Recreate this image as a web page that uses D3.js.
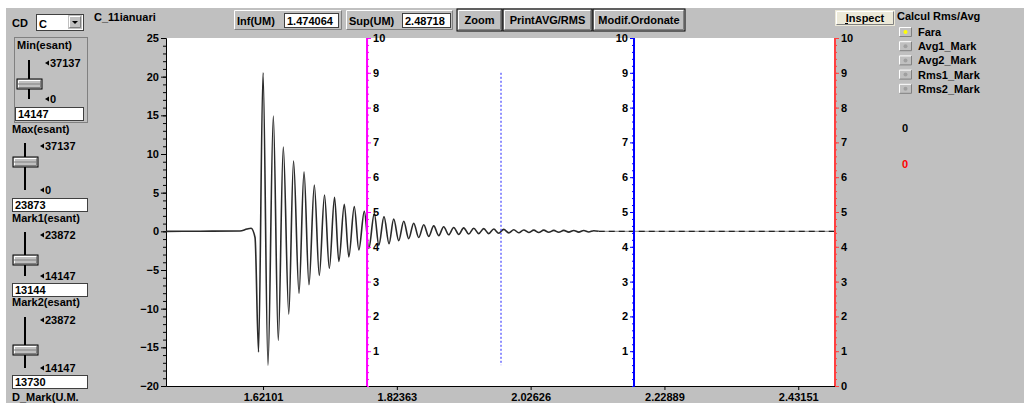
<!DOCTYPE html>
<html>
<head>
<meta charset="utf-8">
<script src="https://cdn.jsdelivr.net/npm/d3@7"></script>
<style>
  html, body { margin: 0; padding: 0; background: #fff; }
  svg { display: block; font-family: "Liberation Sans", Arial, sans-serif; font-weight: bold; font-size: 11px; }
</style>
</head>
<body>
<svg id="chart" width="1024" height="403"></svg>
<script>
// time axis (UM) limits and labelled ticks
const xDomain = [1.474064, 2.48718];
const xTickLabels = [1.62101, 1.82363, 2.02626, 2.22889, 2.43151];
const yDomain = [-20, 25];
const yTickLabels = [25, 20, 15, 10, 5, 0, -5, -10, -15, -20];
const markDomain = [0, 10];
const markTickLabels = [1, 2, 3, 4, 5, 6, 7, 8, 9, 10];
const redTickLabels = [0, 1, 2, 3, 4, 5, 6, 7, 8, 9, 10];

// signal at its turning points
const traceT = [1.4741, 1.5256, 1.5861, 1.5967, 1.6028, 1.6089, 1.6142, 1.6210, 1.6285, 1.6366,
  1.6441, 1.6517, 1.6600, 1.6672, 1.6755, 1.6831, 1.6906, 1.6987, 1.7062, 1.7141,
  1.7214, 1.7293, 1.7358, 1.7441, 1.7509, 1.7592, 1.7661, 1.7744, 1.7812, 1.7895,
  1.7964, 1.8042, 1.8118, 1.8189, 1.8265, 1.8341, 1.8416, 1.8492, 1.8568, 1.8644,
  1.8719, 1.8795, 1.8871, 1.8946, 1.9022, 1.9098, 1.9174, 1.9249, 1.9325, 1.9401,
  1.9476, 1.9552, 1.9628, 1.9704, 1.9779, 1.9855, 1.9931, 2.0007, 2.0082, 2.0158,
  2.0234, 2.0310, 2.0385, 2.0461, 2.0537, 2.0613, 2.0688, 2.0764, 2.0840, 2.0916,
  2.0991, 2.1067, 2.1143, 2.1219, 2.1294];
const traceV = [0, 0.02, 0.05, 0.3, 0.4, -0.8, -15.6, 20.5, -17.3, 14.9,
  -14.1, 10.9, -10.7, 9.1, -8.0, 7.7, -6.9, 6.0, -5.7, 4.7,
  -4.8, 4.4, -3.9, 3.5, -3.3, 3.2, -2.4, 2.6, -2.2, 2.3,
  -1.8, 1.9, -1.6, 1.6, -1.2, 1.3, -0.95, 1.05, -0.8, 0.85,
  -0.65, 0.7, -0.55, 0.6, -0.45, 0.5, -0.4, 0.45, -0.35, 0.4,
  -0.3, 0.35, -0.3, 0.3, -0.25, 0.25, -0.2, 0.2, -0.18, 0.18,
  -0.15, 0.15, -0.15, 0.15, -0.12, 0.12, -0.12, 0.12, -0.1, 0.1,
  -0.1, 0.1, -0.08, 0.08, 0];
const tailT = [2.1294, 2.48718];
const tailV = [0, 0];

// markers
const mark1T = 1.7785;
const mark2T = 2.1828;
const cursorT = 1.9814;
const cursorSpan = [0.6, 9];

// panel texts
const sliderTitles = ["Min(esant)", "Max(esant)", "Mark1(esant)", "Mark2(esant)"];
const sliderTops = ["37137", "37137", "23872", "23872"];
const sliderBottoms = ["0", "0", "14147", "14147"];
const sliderValues = ["14147", "23873", "13144", "13730"];
const calcModes = ["Fara", "Avg1_Mark", "Avg2_Mark", "Rms1_Mark", "Rms2_Mark"];
const buttons = ["Zoom", "PrintAVG/RMS", "Modif.Ordonate"];

const svg = d3.select("#chart");
const W = 1024, H = 403;
const plot = { left: 166, right: 835, top: 38, bottom: 386 };

svg.append("rect").attr("width", W).attr("height", H).attr("fill", "#c0c0c0");
svg.append("rect").attr("width", W).attr("height", 8).attr("fill", "#fff");
svg.append("rect").attr("width", 6).attr("height", H).attr("fill", "#fff");

function raised(x, y, w, h, outline, fill) {
  let g = svg.append("g");
  g.append("rect").attr("x", x).attr("y", y).attr("width", w).attr("height", h)
    .attr("fill", fill || "#c0c0c0").attr("stroke", outline ? "#000" : "none");
  g.append("path").attr("d", `M${x + 1.5},${y + h - 1.5}V${y + 1.5}H${x + w - 1.5}`)
    .attr("fill", "none").attr("stroke", "#fff");
  g.append("path").attr("d", `M${x + 1.5},${y + h - 1.5}H${x + w - 1.5}V${y + 1.5}`)
    .attr("fill", "none").attr("stroke", "#808080");
  return g;
}

function field(x, y, w, h, txt) {
  svg.append("rect").attr("x", x + 0.5).attr("y", y + 0.5).attr("width", w).attr("height", h)
    .attr("fill", "#fff").attr("stroke", "#404040");
  svg.append("text").attr("x", x + 3).attr("y", y + h - 2.5).text(txt);
}

function leftArrow(x, cy) {
  svg.append("path").attr("d", `M${x},${cy}l4,-2.5v5z`).attr("fill", "#000");
}

// ---- top row ----
svg.append("text").attr("x", 12).attr("y", 27).text("CD");
field(36, 14, 47, 16, "C");
raised(68, 15, 14, 14);
svg.append("path").attr("d", "M72,21h6l-3,3z").attr("fill", "#000");
svg.append("text").attr("x", 94).attr("y", 21).text("C_11ianuari");

raised(233, 9, 110, 22);
svg.append("text").attr("x", 237).attr("y", 25).text("Inf(UM)");
field(284, 13, 54, 14, "1.474064");
raised(345, 9, 109, 22);
svg.append("text").attr("x", 349).attr("y", 25).text("Sup(UM)");
field(402, 13, 48, 14, "2.48718");

let bx = [457, 503, 593], bw = [45, 89, 92];
buttons.forEach(function(b, i) {
  raised(bx[i], 9, bw[i], 22, true);
  svg.append("text").attr("x", bx[i] + bw[i] / 2).attr("y", 24)
    .attr("text-anchor", "middle").text(b);
});

// ---- left panel with sliders ----
svg.append("rect").attr("x", 14.5).attr("y", 37.5).attr("width", 73).attr("height", 85)
  .attr("fill", "none").attr("stroke", "#808080");
let sl = [
  { tx: 17, ty: 49, lx: 29, l0: 60, l1: 99, th: 79, ax: 45, bx: 15, by: 107, bw: 68 },
  { tx: 12, ty: 133, lx: 25, l0: 143, l1: 190, th: 157, ax: 40, bx: 12, by: 198, bw: 75 },
  { tx: 12, ty: 222, lx: 25, l0: 232, l1: 276, th: 255, ax: 40, bx: 12, by: 283, bw: 75 },
  { tx: 12, ty: 306, lx: 25, l0: 317, l1: 368, th: 345, ax: 40, bx: 12, by: 375, bw: 75 }
];
sl.forEach(function(s, i) {
  svg.append("text").attr("x", s.tx).attr("y", s.ty).text(sliderTitles[i]);
  svg.append("line").attr("x1", s.lx).attr("x2", s.lx).attr("y1", s.l0).attr("y2", s.l1)
    .attr("stroke", "#000").attr("stroke-width", 2);
  raised(s.lx - 12, s.th, 25, 10, true);
  svg.append("line").attr("x1", s.lx - 11).attr("x2", s.lx + 12).attr("y1", s.th + 5).attr("y2", s.th + 5)
    .attr("stroke", "#808080");
  leftArrow(s.ax, s.l0 + 3);
  svg.append("text").attr("x", s.ax + 5).attr("y", s.l0 + 7).text(sliderTops[i]);
  leftArrow(s.ax, s.l1);
  svg.append("text").attr("x", s.ax + 5).attr("y", s.l1 + 4).text(sliderBottoms[i]);
  field(s.bx, s.by, s.bw, 13, sliderValues[i]);
});
svg.append("text").attr("x", 12).attr("y", 401).text("D_Mark(U.M.");

// ---- right panel ----
raised(835, 10, 60, 16, false, "#ece9d8");
svg.append("text").attr("x", 865).attr("y", 22).attr("text-anchor", "middle").text("Inspect");
svg.append("line").attr("x1", 845).attr("x2", 848).attr("y1", 23.5).attr("y2", 23.5).attr("stroke", "#000");
svg.append("text").attr("x", 897).attr("y", 20).text("Calcul Rms/Avg");
calcModes.forEach(function(m, i) {
  let cy = 32 + i * 14.2;
  raised(898, cy - 6, 15, 12);
  svg.append("circle").attr("cx", 905.5).attr("cy", cy).attr("r", 2)
    .attr("fill", i === 0 ? "#ffff00" : "#a0a0a0");
  svg.append("text").attr("x", 918).attr("y", cy + 4).text(m);
});
svg.append("text").attr("x", 902).attr("y", 132).text("0");
svg.append("text").attr("x", 902).attr("y", 168).attr("fill", "#ff0000").text("0");

// ---- plot ----
let x = d3.scaleLinear().domain(xDomain).range([plot.left, plot.right]);
let y = d3.scaleLinear().domain(yDomain).range([plot.bottom, plot.top]);
let ym = d3.scaleLinear().domain(markDomain).range([plot.bottom, plot.top]);

svg.append("rect").attr("x", plot.left).attr("y", plot.top)
  .attr("width", plot.right - plot.left).attr("height", plot.bottom - plot.top).attr("fill", "#fff");

function styleAxis(g, color) {
  g.attr("font-family", null).attr("font-size", null);
  g.selectAll("line").attr("stroke", color);
  g.selectAll("path").attr("stroke", color);
  g.selectAll("text").attr("fill", "#000");
}

// left axis
svg.append("g").attr("transform", `translate(${plot.left},0)`)
  .call(d3.axisLeft(y).ticks(45).tickSize(3).tickSizeOuter(0).tickFormat(""))
  .call(styleAxis, "#000");
svg.append("g").attr("transform", `translate(${plot.left},0)`)
  .call(d3.axisLeft(y).tickValues(yTickLabels).tickSize(5).tickSizeOuter(0).tickPadding(2))
  .call(styleAxis, "#000");

// bottom axis
svg.append("g").attr("transform", `translate(0,${plot.bottom})`)
  .call(d3.axisBottom(x).tickValues(xTickLabels).tickFormat(d3.format(".5f")).tickSize(4).tickSizeOuter(0).tickPadding(3))
  .call(styleAxis, "#000");

// trace
let pts = traceT.map(function(t, i) { return [t, traceV[i]]; });
let line = d3.line().x(function(d) { return x(d[0]); }).y(function(d) { return y(d[1]); })
  .curve(d3.curveMonotoneX);
svg.append("path").attr("d", line(pts)).attr("fill", "none")
  .attr("stroke", "#2a2a2a").attr("stroke-width", 1.6);
let tail = tailT.map(function(t, i) { return [t, tailV[i]]; });
svg.append("path").attr("d", line(tail)).attr("fill", "none")
  .attr("stroke", "#9a9a9a").attr("stroke-width", 1.4);
svg.append("path").attr("d", line(tail)).attr("fill", "none")
  .attr("stroke", "#222").attr("stroke-width", 1.4).attr("stroke-dasharray", "6,4");

// cursor
svg.append("line").attr("x1", x(cursorT)).attr("x2", x(cursorT))
  .attr("y1", ym(cursorSpan[1])).attr("y2", ym(cursorSpan[0]))
  .attr("stroke", "#2020ff").attr("stroke-dasharray", "2,2");

// marker axes
function markAxis(pos, axisFn, ticks, color) {
  svg.append("g").attr("transform", `translate(${pos},0)`)
    .call(axisFn(ym).ticks(50).tickSize(2).tickSizeOuter(0).tickFormat(""))
    .call(styleAxis, color);
  svg.append("g").attr("transform", `translate(${pos},0)`)
    .call(axisFn(ym).tickValues(ticks).tickSize(4).tickSizeOuter(0).tickPadding(2))
    .call(styleAxis, color);
  svg.append("line").attr("x1", pos).attr("x2", pos).attr("y1", plot.top).attr("y2", plot.bottom)
    .attr("stroke", color).attr("stroke-width", 2);
}
markAxis(x(mark1T), d3.axisRight, markTickLabels, "#ff00ff");
markAxis(x(mark2T), d3.axisLeft, markTickLabels, "#0000ff");
markAxis(plot.right, d3.axisRight, redTickLabels, "#ff4040");
</script>
</body>
</html>
